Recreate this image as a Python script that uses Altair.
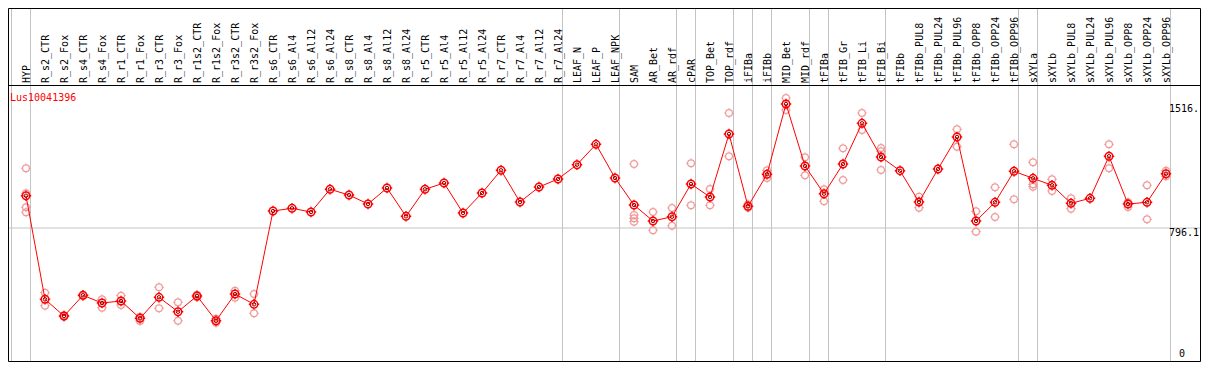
import altair as alt
import pandas as pd

# ---------------- data ----------------
categories = [
    "HYP", "R_s2_CTR", "R_s2_Fox", "R_s4_CTR", "R_s4_Fox", "R_r1_CTR", "R_r1_Fox",
    "R_r3_CTR", "R_r3_Fox", "R_r1s2_CTR", "R_r1s2_Fox", "R_r3s2_CTR", "R_r3s2_Fox",
    "R_s6_CTR", "R_s6_Al4", "R_s6_Al12", "R_s6_Al24", "R_s8_CTR", "R_s8_Al4",
    "R_s8_Al12", "R_s8_Al24", "R_r5_CTR", "R_r5_Al4", "R_r5_Al12", "R_r5_Al24",
    "R_r7_CTR", "R_r7_Al4", "R_r7_Al12", "R_r7_Al24", "LEAF_N", "LEAF_P", "LEAF_NPK",
    "SAM", "AR_Bet", "AR_rdf", "cPAR", "TOP_Bet", "TOP_rdf", "iFIBa", "iFIBb",
    "MID_Bet", "MID_rdf", "tFIBa", "tFIB_Gr", "tFIB_Li", "tFIB_Bi", "tFIBb",
    "tFIBb_PUL8", "tFIBb_PUL24", "tFIBb_PUL96", "tFIBb_OPP8", "tFIBb_OPP24",
    "tFIBb_OPP96", "sXYLa", "sXYLb", "sXYLb_PUL8", "sXYLb_PUL24", "sXYLb_PUL96",
    "sXYLb_OPP8", "sXYLb_OPP24", "sXYLb_OPP96",
]

means = [
    983.6, 382.2, 285.2, 405.4, 360.7, 372.3, 271.9, 393.8, 310.2, 401.3, 257.9,
    412.9, 353.1, 894.8, 910.5, 889.0, 1020.8, 987.7, 935.4, 1028.3, 864.0, 1020.8,
    1057.3, 883.2, 999.3, 1131.1, 947.0, 1034.1, 1080.6, 1163.6, 1282.0, 1086.4,
    929.6, 836.7, 861.7, 1051.5, 976.1, 1341.8, 922.1, 1107.9, 1516.2, 1156.0,
    995.2, 1167.7, 1403.9, 1208.3, 1128.8, 947.0, 1138.6, 1324.4, 836.7, 945.3,
    1125.3, 1084.6, 1044.0, 939.5, 968.5, 1212.4, 935.4, 945.3, 1111.3,
]

rep_categories = [
    "HYP", "HYP", "HYP", "HYP",
    "R_s2_CTR", "R_s2_CTR", "R_s2_Fox", "R_s2_Fox", "R_s4_CTR", "R_s4_CTR",
    "R_s4_Fox", "R_s4_Fox", "R_r1_CTR", "R_r1_CTR", "R_r1_Fox", "R_r1_Fox",
    "R_r3_CTR", "R_r3_CTR", "R_r3_Fox", "R_r3_Fox", "R_r1s2_CTR", "R_r1s2_CTR",
    "R_r1s2_Fox", "R_r1s2_Fox", "R_r3s2_CTR", "R_r3s2_CTR", "R_r3s2_Fox", "R_r3s2_Fox",
    "SAM", "SAM", "SAM", "SAM", "AR_Bet", "AR_Bet", "AR_rdf", "AR_rdf",
    "cPAR", "cPAR", "TOP_Bet", "TOP_Bet", "TOP_rdf", "TOP_rdf", "iFIBa", "iFIBa",
    "iFIBb", "iFIBb", "MID_Bet", "MID_Bet", "MID_rdf", "MID_rdf", "tFIBa", "tFIBa",
    "tFIB_Gr", "tFIB_Gr", "tFIB_Li", "tFIB_Li", "tFIB_Bi", "tFIB_Bi", "tFIB_Bi",
    "tFIBb_PUL8", "tFIBb_PUL8", "tFIBb_PUL96", "tFIBb_PUL96", "tFIBb_OPP8", "tFIBb_OPP8",
    "tFIBb_OPP24", "tFIBb_OPP24", "tFIBb_OPP96", "tFIBb_OPP96",
    "sXYLa", "sXYLa", "sXYLa", "sXYLb", "sXYLb", "sXYLb_PUL8", "sXYLb_PUL8",
    "sXYLb_PUL96", "sXYLb_PUL96", "sXYLb_OPP8", "sXYLb_OPP8", "sXYLb_OPP24", "sXYLb_OPP24",
    "sXYLb_OPP96", "sXYLb_OPP96",
]

rep_values = [
    1142.7, 997.6, 916.3, 887.2,
    420.5, 345.0, 289.3, 281.1, 408.9, 401.3,
    382.2, 333.4, 403.1, 349.1, 281.1, 256.2,
    451.8, 329.9, 364.8, 257.9, 408.9, 393.8,
    269.5, 246.3, 432.1, 391.5, 412.9, 300.9,
    1167.7, 871.6, 852.4, 832.7, 889.0, 782.7, 912.2, 809.5,
    1171.7, 927.9, 1022.5, 927.9, 1463.7, 1212.4, 933.7, 914.0,
    1131.1, 1086.4, 1550.8, 1481.1, 1206.5, 1102.0, 1020.8, 951.1,
    1258.8, 1074.8, 1463.7, 1365.0, 1260.5, 1241.4, 1132.8,
    977.8, 914.0, 1369.1, 1268.1, 893.1, 774.6,
    1032.4, 860.0, 1282.0, 962.7,
    1177.5, 1049.8, 1035.9, 1078.8, 1010.9, 968.5, 908.1,
    1282.0, 1142.7, 945.3, 918.0, 1044.0, 846.6,
    1128.8, 1096.2,
]

# group boundaries: a grey line is drawn just after each of these categories
# ("" = line before the first category)
group_ends = ["", "HYP", "R_r7_Al24", "LEAF_NPK", "AR_rdf", "cPAR", "TOP_rdf", "iFIBa",
              "iFIBb", "MID_rdf", "tFIBa", "tFIB_Bi", "tFIBb_OPP96", "sXYLa", "sXYLb_OPP96"]

tick_values = [1516.2, 796.1]
tick_labels = ["1516.", "796.1"]
zero_value = [0]
zero_label = ["0"]
gene = "Lus10041396"

# ---------------- tables ----------------
pos = {c: i for i, c in enumerate(categories)}
df_main = pd.DataFrame({"cat": categories, "idx": list(range(len(categories))), "value": means})
df_reps = pd.DataFrame({"cat": rep_categories, "idx": [pos[c] for c in rep_categories],
                        "value": rep_values})
df_sep = pd.DataFrame({"sep": [pos[c] if c else -1 for c in group_ends]})
df_ticks = pd.DataFrame({"value": tick_values, "label": tick_labels})
df_zero = pd.DataFrame({"value": zero_value, "label": zero_label})
df_one = pd.DataFrame({"t": [gene]})

# ---------------- geometry ----------------
W, H = 1193, 354
STEP = 19.0
X0 = 18.0
xscale = alt.Scale(domain=[-X0 / STEP, (W - X0) / STEP], range=[0, W], nice=False, zero=False)
yscale = alt.Scale(domain=[18.2, 2073.3], range=[H, 0], nice=False, zero=False)
FONT = "DejaVu Sans Mono"

RING = ("M1,0A1,1,0,1,1,-1,0A1,1,0,1,1,1,0"
        "M0,-1L0,-1.4M0,1L0,1.4M-1,0L-1.4,0M1,0L1.4,0")

X = alt.X("idx:Q", scale=xscale, axis=None)
Y = alt.Y("value:Q", scale=yscale, axis=None)

frame = alt.Chart(df_one).mark_rect(fill="transparent", stroke="black", strokeWidth=1).encode(
    x=alt.value(0.5), x2=alt.value(W - 0.5), y=alt.value(0.5), y2=alt.value(H - 0.5))

header_line = alt.Chart(df_one).mark_rule(color="black", strokeWidth=1).encode(
    x=alt.value(0), x2=alt.value(W), y=alt.value(77.5))

vgrid = alt.Chart(df_sep).transform_calculate(xs="datum.sep + 0.2368").mark_rule(
    color="#c4c4c4", strokeWidth=1).encode(
    x=alt.X("xs:Q", scale=xscale, axis=None), y=alt.value(0), y2=alt.value(H))

hgrid = alt.Chart(df_ticks).transform_filter("datum.value < 1000").mark_rule(
    color="#c4c4c4", strokeWidth=1).encode(x=alt.value(0), x2=alt.value(W), y=Y)

col_labels = alt.Chart(df_main).mark_text(
    angle=270, align="left", baseline="alphabetic", dy=3.5,
    font=FONT, fontSize=10, color="black").encode(x=X, y=alt.value(75), text="cat:N")

title = alt.Chart(df_one).mark_text(
    align="left", baseline="alphabetic", font=FONT, fontSize=10, color="#ff0000").encode(
    x=alt.value(2), y=alt.value(93), text="t:N")

tick_text = alt.Chart(df_ticks).mark_text(
    align="left", baseline="top", font=FONT, fontSize=10, color="black").encode(
    x=alt.value(1161), y=Y, text="label:N")

zero_text = alt.Chart(df_zero).mark_text(
    align="left", baseline="bottom", dy=-6, font=FONT, fontSize=10, color="black").encode(
    x=alt.value(1171), y=Y, text="label:N")

reps = alt.Chart(df_reps).mark_point(
    shape=RING, size=46, filled=False, color="#f09a9a", strokeWidth=1.2, opacity=1).encode(x=X, y=Y)

line = alt.Chart(df_main).mark_line(color="#ff0000", strokeWidth=1).encode(
    x=X, y=Y, order="idx:Q")

inner = alt.Chart(df_main).mark_point(
    shape="circle", size=12, filled=False, color="#990000", strokeWidth=1, opacity=1).encode(x=X, y=Y)

main_pts = alt.Chart(df_main).mark_point(
    shape=RING, size=56, filled=False, color="#ff0000", strokeWidth=1.5, opacity=1).encode(x=X, y=Y)

chart = alt.layer(
    vgrid, hgrid, header_line, col_labels, title, tick_text, zero_text,
    reps, line, inner, main_pts, frame,
).properties(
    width=W, height=H, padding=0, autosize=alt.AutoSizeParams(type="none"),
    background="white",
).configure_view(stroke=None)

chart.save("out.html", embed_options={"renderer": "svg", "actions": False})
